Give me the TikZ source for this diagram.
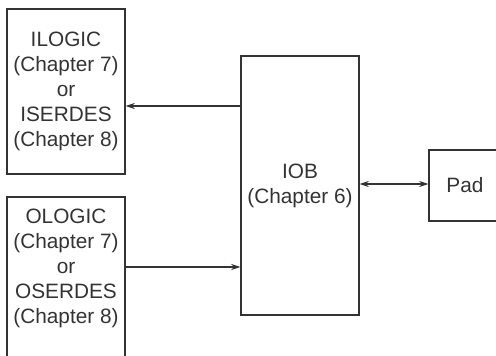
\documentclass[tikz,border=0pt]{standalone}
\usepackage{fontspec}
\setmainfont{Liberation Sans}
\usetikzlibrary{arrows.meta}
\begin{document}
\begin{tikzpicture}[x=1pt,y=1pt,
  box/.style={draw=black!80, line width=1.4pt, minimum width=118pt, inner sep=0pt},
  lbl/.style={text=black!80, font=\fontsize{20.8}{25}\selectfont, align=center, inner sep=0pt},
  conn/.style={draw=black!80, line width=1.3pt, -{Stealth[length=9pt,width=6pt]}}]
\useasboundingbox (0,0) rectangle (496,356);
\clip (0,0) rectangle (496,356);
\node[box, lbl, minimum height=165pt] (ilogic) at (66,264.5) {ILOGIC\\(Chapter 7)\\or\\ISERDES\\(Chapter 8)};
\node[box, minimum height=175pt] (ologic) at (66,71.5) {};
\node[lbl] (ologictext) at (66,88) {OLOGIC\\(Chapter 7)\\or\\OSERDES\\(Chapter 8)};
\node[box, lbl, minimum height=259pt] (iob) at (300,170.5) {IOB\\(Chapter 6)};
\node[box, lbl, minimum width=76pt, minimum height=71pt] (pad) at (467,170.5) {\hspace*{-4pt}Pad};
\coordinate (ia) at (0,250);
\coordinate (oa) at (0,89);
\coordinate (pa) at (0,172);
\draw[conn] (iob.west |- ia) -- (ilogic.east |- ia);
\draw[conn] (ologic.east |- oa) -- (iob.west |- oa);
\draw[conn, {Stealth[length=9pt,width=6pt]}-{Stealth[length=9pt,width=6pt]}] (iob.east |- pa) -- (pad.west |- pa);
\end{tikzpicture}
\end{document}
